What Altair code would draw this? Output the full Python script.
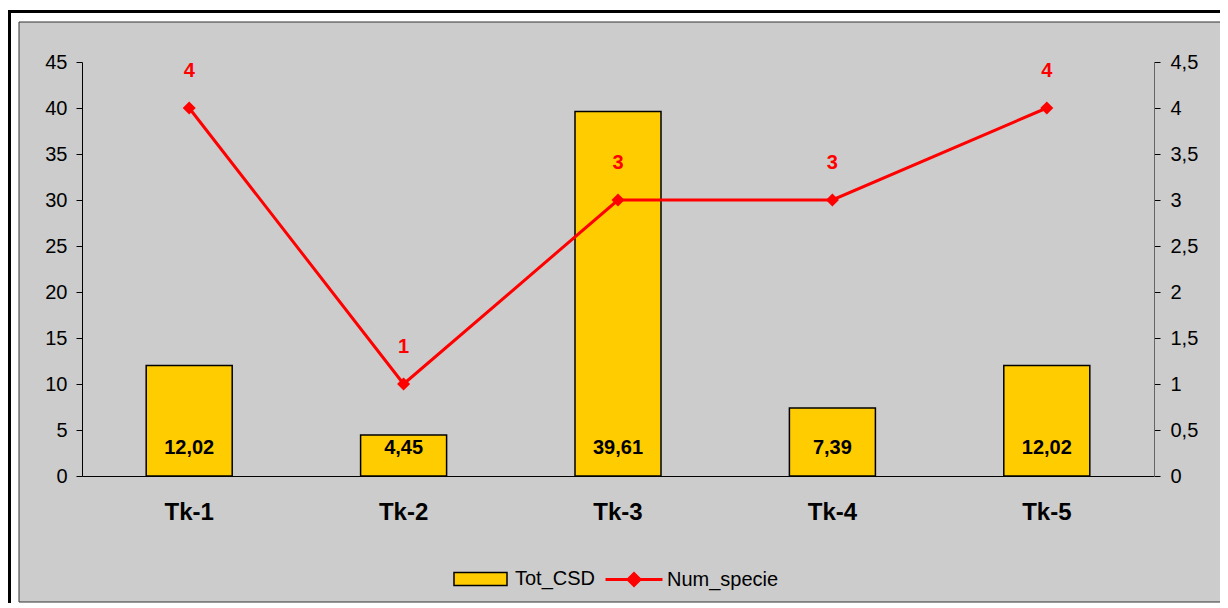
import altair as alt
import pandas as pd

categories = ["Tk-1", "Tk-2", "Tk-3", "Tk-4", "Tk-5"]
tot_csd = [12.02, 4.45, 39.61, 7.39, 12.02]
num_specie = [4, 1, 3, 3, 4]
left_ticks = [0, 5, 10, 15, 20, 25, 30, 35, 40, 45]
right_ticks = [0, 0.5, 1, 1.5, 2, 2.5, 3, 3.5, 4, 4.5]

df = pd.DataFrame({"cat": categories, "Tot_CSD": tot_csd, "Num_specie": num_specie})
df["csd_series"] = "Tot_CSD"
df["sp_series"] = "Num_specie"

FONT = "Liberation Sans"
W, H = 1072, 414

xscale = alt.Scale(paddingInner=0, paddingOuter=0)

x_lab = alt.X("cat:N", scale=xscale, sort=categories,
              axis=alt.Axis(title=None, labelFont=FONT, labelFontSize=24, labelFontWeight="bold",
                            labelColor="black", ticks=False, domain=True, domainColor="black",
                            domainWidth=1, labelPadding=24, labelAngle=0, orient="bottom", zindex=1))
x_tick = alt.X("cat:N", scale=xscale, sort=categories,
               axis=alt.Axis(title=None, labels=False, ticks=True, tickColor="black", tickSize=7,
                             bandPosition=0, domain=False, orient="bottom", grid=False, zindex=1))
x_none = alt.X("cat:N", scale=xscale, sort=categories, axis=None)

one = pd.DataFrame({"a": [0]})
bg = alt.Chart(one).mark_rect(fill="#cccccc", stroke="#333333", strokeWidth=1).encode(
    x=alt.value(-63), x2=alt.value(1139), y=alt.value(-40), y2=alt.value(540))
frame = alt.Chart(one).mark_rect(fill=None, stroke="black", strokeWidth=3).encode(
    x=alt.value(-72.5), x2=alt.value(1200), y=alt.value(-50.5), y2=alt.value(600))

base = alt.Chart(df)

bars = base.mark_bar(size=86, stroke="black", strokeWidth=1.5).encode(
    x=x_lab,
    y=alt.Y("Tot_CSD:Q", scale=alt.Scale(domain=[0, 45], nice=False),
            axis=alt.Axis(title=None, values=left_ticks, labelFont=FONT, labelFontSize=20,
                          labelColor="black", domainColor="black", tickColor="black", tickSize=6,
                          labelPadding=9, grid=False, orient="left", zindex=1)),
    fill=alt.Fill("csd_series:N", scale=alt.Scale(domain=["Tot_CSD"], range=["#ffcc00"]),
                  legend=alt.Legend(title=None, orient="none", legendX=371, legendY=489.5,
                                    symbolType="M-1,-0.245H1V0.245H-1Z", symbolSize=2809,
                                    symbolStrokeColor="black", symbolStrokeWidth=1.5,
                                    labelOffset=7)),
)
bar_labels = base.mark_text(font=FONT, fontSize=20, fontWeight="bold", color="black",
                            baseline="middle", dy=-28).transform_calculate(
    lab="replace(format(datum.Tot_CSD, '.2f'), '.', ',')"
).encode(x=x_lab, y=alt.datum(0), text="lab:N")

left = alt.layer(bars, bar_labels)

yr = alt.Y("Num_specie:Q", scale=alt.Scale(domain=[0, 4.5], nice=False),
           axis=alt.Axis(title=None, values=right_ticks, labelFont=FONT, labelFontSize=20,
                         labelColor="black", domainColor="#666666", tickColor="black", tickSize=6,
                         labelPadding=10, grid=False, orient="right", zindex=1,
                         labelExpr="replace(toString(datum.value), '.', ',')"))

line = base.mark_line(strokeWidth=3).encode(
    x=x_tick, y=yr,
    stroke=alt.Stroke("sp_series:N", scale=alt.Scale(domain=["Num_specie"], range=["#ff0000"]),
                      legend=alt.Legend(title=None, orient="none", legendX=522, legendY=487.5,
                                        symbolType="M-1,0H1M-0.21,0L0,-0.21L0.21,0L0,0.21Z",
                                        symbolSize=3249, symbolStrokeWidth=3,
                                        symbolFillColor="#ff0000", labelOffset=3)),
)
points = base.mark_point(shape="diamond", filled=True, color="#ff0000", size=170, opacity=1).encode(
    x=x_none, y=yr)
line_labels = base.mark_text(font=FONT, fontSize=20, fontWeight="bold", color="#ff0000",
                             baseline="middle", dy=-37).encode(
    x=x_none, y=yr, text=alt.Text("Num_specie:Q", format="d"))

right = alt.layer(line, points, line_labels)

chart = alt.layer(bg, frame, left, right).resolve_scale(
    y="independent", fill="independent", stroke="independent"
).resolve_axis(x="independent").properties(
    width=W, height=H,
    padding={"left": 74, "top": 54, "right": 66, "bottom": 127},
    autosize=alt.AutoSizeParams(type="none"),
    background="white",
).configure_view(stroke=None).configure_legend(
    labelFont=FONT, labelFontSize=20, labelColor="black", padding=0
)

chart.save("out.html", embed_options={"renderer": "svg", "actions": False})
